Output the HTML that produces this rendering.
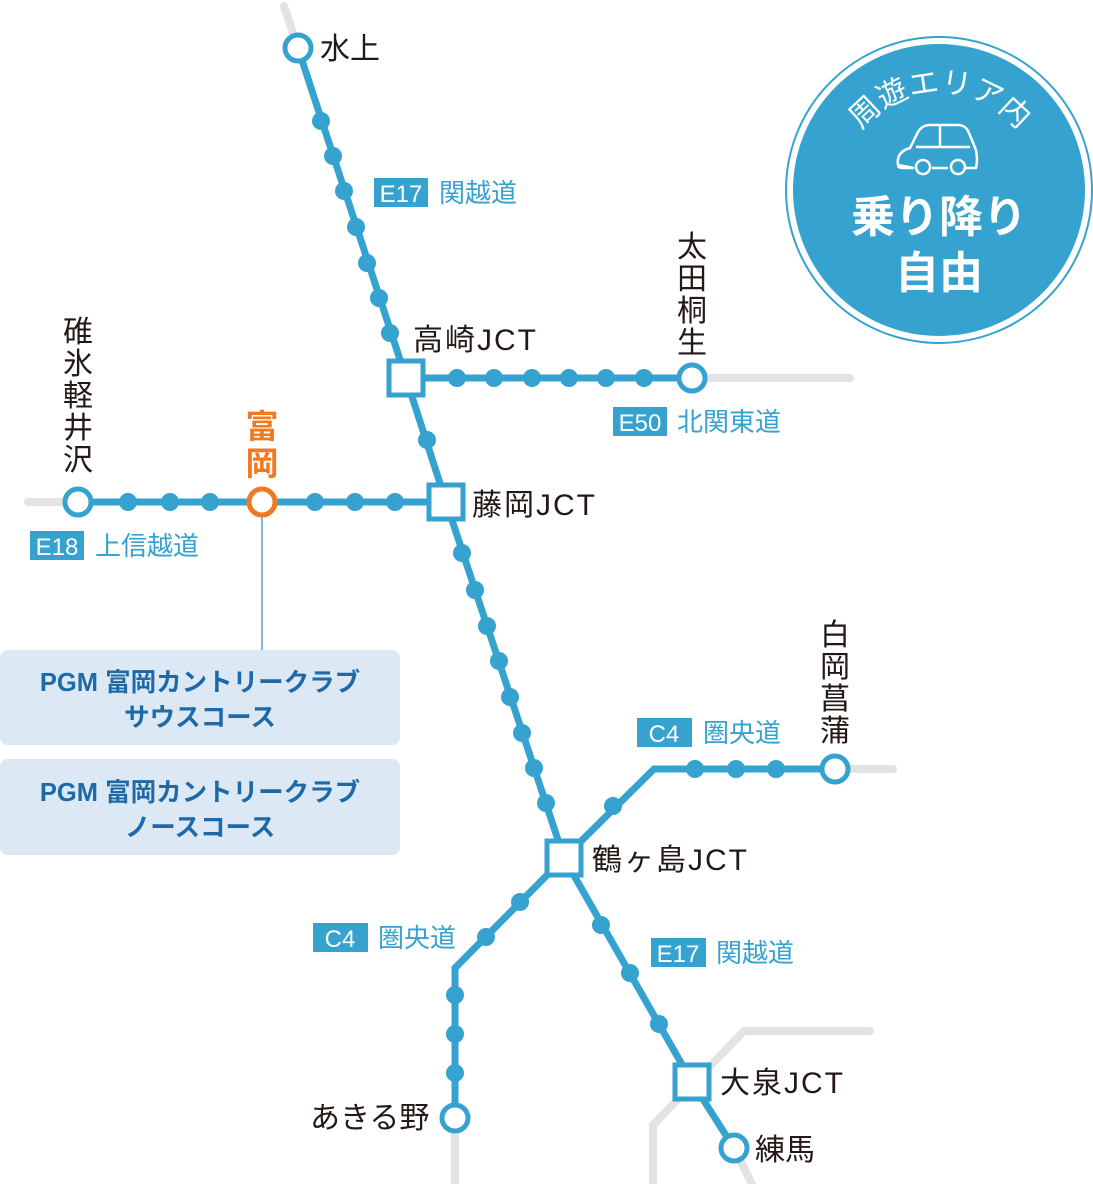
<!DOCTYPE html>
<html><head><meta charset="utf-8"><style>
html,body{margin:0;padding:0;background:#fff;width:1093px;height:1184px;overflow:hidden}
svg{display:block}
text{font-family:"Liberation Sans","Noto Sans CJK JP",sans-serif}
.st{font-size:30px;fill:#231815}
.j{letter-spacing:2px}
.rd{font-size:26px;fill:#35a2cf}
.bx{font-size:24px;fill:#fff}
</style></head><body>
<svg width="1093" height="1184" viewBox="0 0 1093 1184" xmlns="http://www.w3.org/2000/svg">
<g stroke="#e3e3e3" stroke-width="8" stroke-linecap="round" fill="none">
<line x1="284" y1="6" x2="298" y2="48"/>
<line x1="692" y1="378" x2="850" y2="378"/>
<line x1="28" y1="502" x2="78" y2="502"/>
<line x1="835" y1="769" x2="893" y2="769"/>
<line x1="455" y1="1118" x2="455" y2="1184"/>
<polyline points="653,1184 653,1125 744,1031 870,1031"/>
<line x1="734" y1="1148" x2="752" y2="1184"/>
</g>
<g stroke="#35a2cf" stroke-width="7" fill="none">
<polyline points="298,48 406,378 446,502 564,858 692,1082 734,1148"/>
<line x1="406" y1="378" x2="692" y2="378"/>
<line x1="78" y1="502" x2="446" y2="502"/>
<polyline points="564,858 654,769 835,769"/>
<polyline points="564,858 455,968 455,1118"/>
</g>
<g fill="#35a2cf">
<circle cx="321" cy="121" r="9"/><circle cx="333" cy="156" r="9"/><circle cx="344" cy="191" r="9"/><circle cx="356" cy="227" r="9"/><circle cx="367" cy="263" r="9"/><circle cx="379" cy="298" r="9"/><circle cx="390" cy="333" r="9"/>
<circle cx="427" cy="440" r="9"/>
<circle cx="462" cy="553" r="9"/><circle cx="475" cy="590" r="9"/><circle cx="487" cy="626" r="9"/><circle cx="499" cy="661" r="9"/><circle cx="510" cy="697" r="9"/><circle cx="522" cy="733" r="9"/><circle cx="534" cy="768" r="9"/><circle cx="546" cy="803" r="9"/>
<circle cx="601" cy="925" r="9"/><circle cx="630" cy="973" r="9"/><circle cx="659" cy="1024" r="9"/>
<circle cx="457" cy="378" r="9"/><circle cx="494" cy="378" r="9"/><circle cx="532" cy="378" r="9"/><circle cx="569" cy="378" r="9"/><circle cx="606" cy="378" r="9"/><circle cx="644" cy="378" r="9"/>
<circle cx="128" cy="502" r="9"/><circle cx="170" cy="502" r="9"/><circle cx="210" cy="502" r="9"/><circle cx="315" cy="502" r="9"/><circle cx="355" cy="502" r="9"/><circle cx="395" cy="502" r="9"/>
<circle cx="613" cy="806" r="9"/><circle cx="695" cy="769" r="9"/><circle cx="736" cy="769" r="9"/><circle cx="776" cy="769" r="9"/>
<circle cx="520" cy="902" r="9"/><circle cx="486" cy="937" r="9"/><circle cx="455" cy="995" r="9"/><circle cx="455" cy="1034" r="9"/><circle cx="455" cy="1073" r="9"/>
</g>
<g fill="#fff" stroke="#35a2cf" stroke-width="5">
<circle cx="298" cy="48" r="13"/><circle cx="692" cy="378" r="13"/><circle cx="78" cy="502" r="13"/><circle cx="835" cy="769" r="13"/><circle cx="455" cy="1118" r="13"/><circle cx="734" cy="1148" r="13"/>
<rect x="389" y="361" width="34" height="34"/><rect x="429" y="485" width="34" height="34"/><rect x="547" y="841" width="34" height="34"/><rect x="675" y="1065" width="34" height="34"/>
</g>
<line x1="262" y1="502" x2="262" y2="650" stroke="#1e6aa8" stroke-width="1"/>
<circle cx="262" cy="502" r="13" fill="#fff" stroke="#f07a22" stroke-width="5"/>
<text class="st" x="320" y="59">水上</text>
<text class="st j" x="413" y="350">高崎JCT</text>
<text class="st j" x="472" y="515">藤岡JCT</text>
<text class="st j" x="592" y="870">鶴ヶ島JCT</text>
<text class="st j" x="720" y="1093">大泉JCT</text>
<text class="st" x="755" y="1160">練馬</text>
<text class="st" x="310" y="1128">あきる野</text>
<g class="st" text-anchor="middle">
<text x="692" y="257">太</text><text x="692" y="289">田</text><text x="692" y="321">桐</text><text x="692" y="353">生</text>
<text x="78" y="342">碓</text><text x="78" y="374">氷</text><text x="78" y="406">軽</text><text x="78" y="438">井</text><text x="78" y="470">沢</text>
<text x="835" y="645">白</text><text x="835" y="677">岡</text><text x="835" y="709">菖</text><text x="835" y="741">蒲</text>
</g>
<g text-anchor="middle" style="font-size:33px;font-weight:bold;fill:#f07a22">
<text x="262" y="438">富</text><text x="262" y="475">岡</text>
</g>
<g fill="#35a2cf">
<rect x="374" y="178" width="54" height="29"/>
<rect x="613" y="407" width="54" height="29"/>
<rect x="30" y="531" width="54" height="29"/>
<rect x="637" y="718" width="55" height="29"/>
<rect x="313" y="923" width="55" height="29"/>
<rect x="651" y="938" width="55" height="29"/>
</g>
<g class="bx" text-anchor="middle">
<text x="401" y="202">E17</text><text x="640" y="431">E50</text><text x="57" y="555">E18</text>
<text x="664" y="742">C4</text><text x="340" y="947">C4</text><text x="678" y="962">E17</text>
</g>
<text class="rd" x="439" y="202">関越道</text>
<text class="rd" x="677" y="431">北関東道</text>
<text class="rd" x="95" y="555">上信越道</text>
<text class="rd" x="703" y="742">圏央道</text>
<text class="rd" x="378" y="947">圏央道</text>
<text class="rd" x="716" y="962">関越道</text>
<rect x="0" y="650" width="400" height="95" rx="8" fill="#dce9f5"/>
<rect x="0" y="759" width="400" height="96" rx="8" fill="#dce9f5"/>
<g text-anchor="middle" style="font-size:25.5px;font-weight:bold;fill:#1e6aa8">
<text x="200" y="691">PGM 富岡カントリークラブ</text>
<text x="200" y="726">サウスコース</text>
<text x="200" y="801">PGM 富岡カントリークラブ</text>
<text x="200" y="836">ノースコース</text>
</g>
<circle cx="939" cy="190" r="153" fill="#fff" stroke="#35a2cf" stroke-width="2"/>
<circle cx="939" cy="190" r="146" fill="#35a2cf"/>
<path id="arc" d="M862,130 A100,100 0 0 1 1018,130" fill="none"/>
<text style="font-size:30px;fill:#fff" text-anchor="middle"><textPath href="#arc" startOffset="50%">周遊エリア内</textPath></text>
<g fill="none" stroke="#fff" stroke-width="2.5">
<path d="M898,165 Q896,152 910,148 L918,132 Q922,125 930,125 L958,125 Q966,125 969,133 L976,150 Q978,160 976,168 L966,168 M948,168 L932,168 M914,168 L903,168 Q898,168 898,165Z"/>
<line x1="940" y1="126" x2="940" y2="147"/><path d="M916,147 L970,147"/>
<circle cx="923" cy="167" r="7"/><circle cx="958" cy="167" r="7"/>
</g>
<g text-anchor="middle" style="font-size:44px;font-weight:bold;fill:#fff">
<text x="939" y="232">乗り降り</text>
<text x="939" y="288">自由</text>
</g>
</svg>
</body></html>
